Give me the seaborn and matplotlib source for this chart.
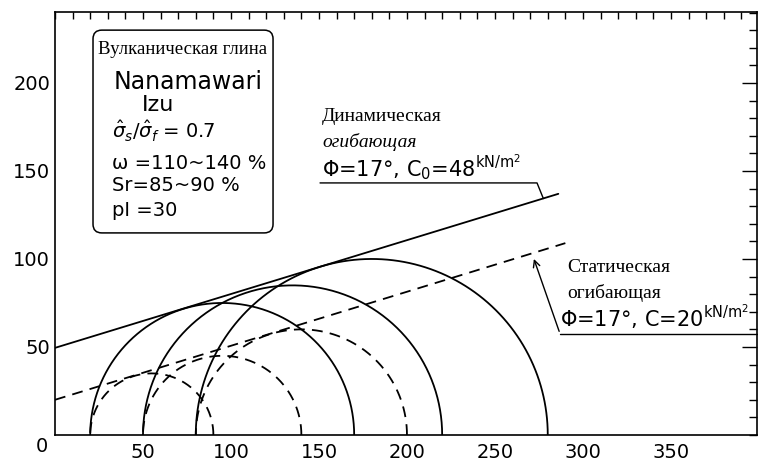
import numpy as np
import pandas as pd
import matplotlib
matplotlib.use("Agg")
import matplotlib.pyplot as plt
from matplotlib.patches import FancyBboxPatch
import seaborn as sns

# ---- data ----
dyn_sigma3 = [20, 50, 80]        # dynamic Mohr circles, left foot
dyn_sigma1 = [170, 220, 280]     # dynamic Mohr circles, right foot
sta_sigma3 = [20, 50, 80]        # static Mohr circles, left foot
sta_sigma1 = [90, 140, 200]      # static Mohr circles, right foot
dyn_env_x = [0, 286]
dyn_env_y = [49.5, 137]
sta_env_x = [0, 290]
sta_env_y = [20, 109]
x_ticks = [50, 100, 150, 200, 250, 300, 350]
y_ticks = [50, 100, 150, 200]

sns.set_theme(style="white")
plt.rcParams["font.family"] = ["DejaVu Sans"]
plt.rcParams["mathtext.fontset"] = "dejavusans"
plt.rcParams["text.color"] = "black"
plt.rcParams["xtick.labelcolor"] = "black"
plt.rcParams["ytick.labelcolor"] = "black"

fig = plt.figure(figsize=(7.58, 4.63), dpi=100)
ax = fig.add_axes([55 / 758, 1 - 435 / 463, 702 / 758, 423 / 463])

LW = 1.3
dash = (0, (6, 4))

def circle_df(s3, s1):
    theta = np.linspace(0, np.pi, 300)
    c = (s3 + s1) / 2.0
    r = (s1 - s3) / 2.0
    return pd.DataFrame({"x": c + r * np.cos(theta), "y": r * np.sin(theta)})

for s3, s1 in zip(dyn_sigma3, dyn_sigma1):
    d = circle_df(s3, s1)
    sns.lineplot(data=d, x="x", y="y", sort=False, estimator=None,
                 color="black", lw=LW, ax=ax)
for s3, s1 in zip(sta_sigma3, sta_sigma1):
    d = circle_df(s3, s1)
    sns.lineplot(data=d, x="x", y="y", sort=False, estimator=None,
                 color="black", lw=LW, linestyle=dash, ax=ax)

sns.lineplot(x=dyn_env_x, y=dyn_env_y, color="black", lw=LW, ax=ax)
sns.lineplot(x=sta_env_x, y=sta_env_y, color="black", lw=LW, linestyle=dash, ax=ax)

ax.set_xlim(0, 398.9)
ax.set_ylim(0, 240.3)
ax.set_xlabel("")
ax.set_ylabel("")
ax.set_xticks(x_ticks)
ax.set_yticks(y_ticks)
ax.set_xticks(np.arange(0, 400, 10), minor=True)
ax.set_yticks(np.arange(0, 241, 10), minor=True)
ax.tick_params(which="both", direction="in", top=True, right=True,
               color="black", width=1.0)
ax.tick_params(axis="x", which="both", length=5, pad=6, labelsize=14)
ax.tick_params(axis="y", which="major", length=10.8, pad=3.5, labelsize=14)
ax.tick_params(axis="y", which="minor", length=5.5)
for sp in ax.spines.values():
    sp.set_color("black")
    sp.set_linewidth(1.2)
ax.text(-7.4, -6.8, "0", fontsize=14, ha="center", va="center", clip_on=False)

serif = ["Liberation Serif", "DejaVu Serif"]

# ---- info box ----
box = FancyBboxPatch((21.6, 114.8), 102.3, 115.2,
                     boxstyle="round,pad=0,rounding_size=5",
                     fc="white", ec="black", lw=1.1, zorder=3)
ax.add_patch(box)
ax.text(72.7, 218.8, "Вулканическая глина", family=serif,
        fontsize=13.5, ha="center", va="center", zorder=4)
ax.text(75.6, 200.6, "Nanamawari", fontsize=17, ha="center", va="center", zorder=4)
ax.text(49.4, 187.5, "Izu", fontsize=16, ha="left", va="center", zorder=4)
ax.text(32.4, 172.2, r"$\hat{\sigma}_s/\hat{\sigma}_f$ = 0.7", fontsize=14,
        ha="left", va="center", zorder=4)
ax.text(32.4, 154.5, "ω =110~140 %", fontsize=14, ha="left", va="center", zorder=4)
ax.text(32.4, 142.0, "Sr=85~90 %", fontsize=14, ha="left", va="center", zorder=4)
ax.text(32.4, 127.8, "pI =30", fontsize=14, ha="left", va="center", zorder=4)

# ---- dynamic envelope label ----
ax.text(151.7, 180.7, "Динамическая", family=serif, fontsize=14, ha="left", va="center")
ax.text(151.7, 166.5, "огибающая", family=serif, fontsize=14, style="italic",
        ha="left", va="center")
ax.text(151.7, 151.7, r"Φ=17°, C$_\mathrm{0}$=48$^{\mathrm{kN/m^2}}$", fontsize=15,
        ha="left", va="center")
ax.plot([150.6, 273.9, 277.5], [143.2, 143.2, 49.5 + np.tan(np.radians(17)) * 277.5],
        color="black", lw=1.0)

# ---- static envelope label ----
ax.text(290.9, 94.9, "Статическая", family=serif, fontsize=14, ha="left", va="center")
ax.text(290.9, 80.7, "огибающая", family=serif, fontsize=14, ha="left", va="center")
ax.text(287.0, 67.0, r"Φ=17°, C=20$^{\mathrm{kN/m^2}}$", fontsize=15,
        ha="left", va="center", clip_on=False)
ax.plot([410, 287.0], [57.4, 57.4], color="black", lw=1.0, clip_on=False)
ax.annotate("", xy=(271.6, 101.5), xytext=(287.0, 57.4),
            arrowprops=dict(arrowstyle="->", color="black", lw=1.0))

fig.savefig("out.png", dpi=100)
